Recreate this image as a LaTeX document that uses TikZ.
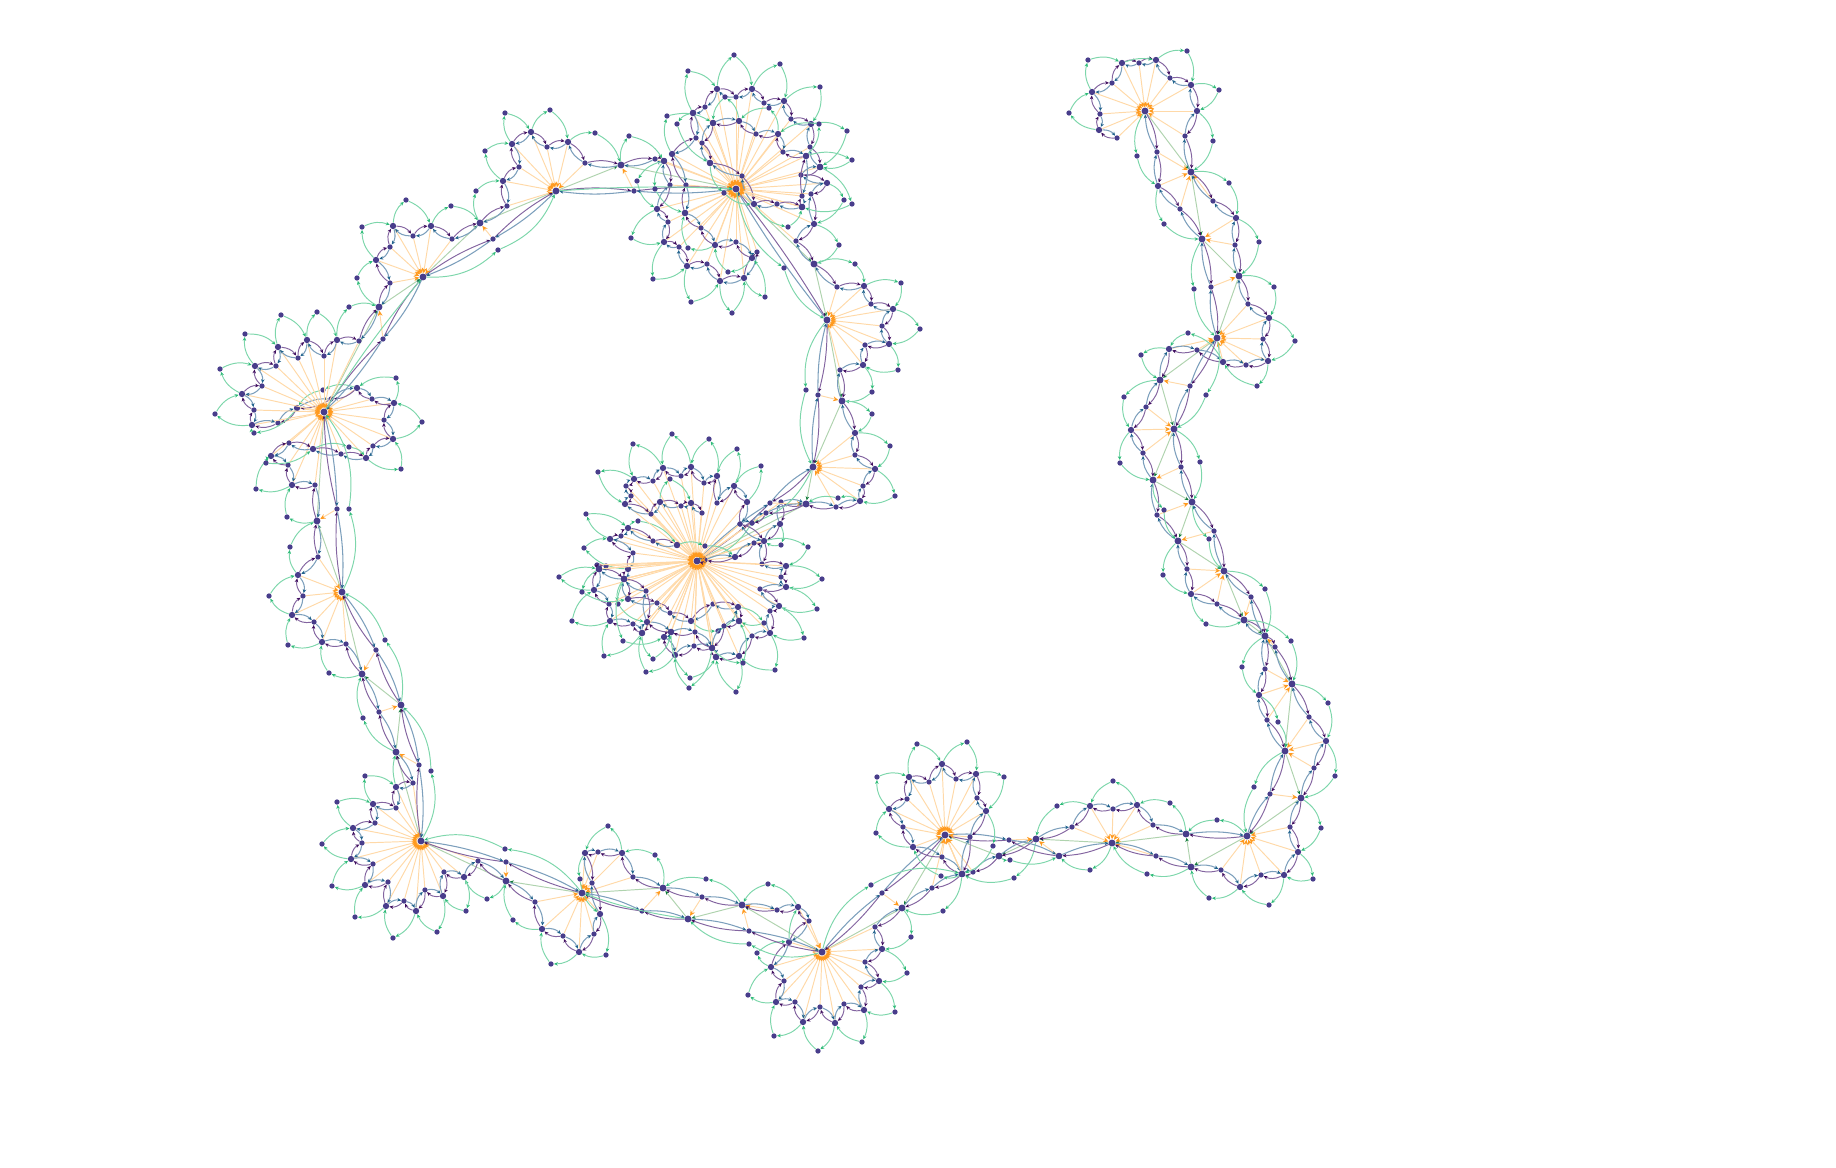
\documentclass[tikz,border=0pt]{standalone}
\usetikzlibrary{arrows.meta}
\definecolor{ink}{HTML}{483D8B}
\definecolor{peach}{HTML}{FFD9A8}
\definecolor{peachtip}{HTML}{FF9A1F}
\definecolor{mint}{HTML}{7DD6AB}
\definecolor{minttip}{HTML}{2EBB78}
\definecolor{plum}{HTML}{8364A0}
\definecolor{plumtip}{HTML}{3F0D5E}
\definecolor{steel}{HTML}{7C9FBC}
\definecolor{steeltip}{HTML}{20628C}
\definecolor{sage}{HTML}{AFD3AE}
\definecolor{sagetip}{HTML}{0F7A3A}
\tikzset{
  smalldot/.style={circle,fill=ink,inner sep=0pt,minimum size=3pt},
  bigdot/.style={circle,fill=ink,inner sep=0pt,minimum size=3.6pt},
  hubdot/.style={circle,fill=ink,inner sep=0pt,minimum size=3.9pt},
  spoke/.style={draw=peach,line width=.55pt,-{Stealth[length=3pt,width=2.8pt,color=peachtip]}},
  leafline/.style={draw=mint,line width=.55pt,-{Stealth[length=2.2pt,width=2pt,color=minttip]}},
  plumline/.style={draw=plum,line width=.55pt,-{Stealth[length=2.2pt,width=2pt,color=plumtip]}},
  steelline/.style={draw=steel,line width=.6pt,-{Stealth[length=2.2pt,width=2pt,color=steeltip]}},
  backbone/.style={draw=sage,line width=.55pt,-{Stealth[length=2.2pt,width=2pt,color=sagetip]}}
}
\newcount\dotno
\newif\iflens
\newcommand{\petal}[3]{%
  \pgfpointdiff{\pgfpointanchor{#1}{center}}{\pgfpointanchor{#2}{center}}\pgfgetlastxy{\ax}{\ay}%
  \pgfpointdiff{\pgfpointanchor{#1}{center}}{\pgfpointanchor{#3}{center}}\pgfgetlastxy{\bx}{\by}%
  \pgfmathsetmacro{\turn}{(\ax/10)*(\by/10)-(\ay/10)*(\bx/10)}%
  \ifdim\turn pt>0pt \def\side{-22}\else \def\side{22}\fi
  \draw[leafline,bend left=\side] (#1) to (#2);
  \draw[leafline,bend left=\side] (#2) to (#3);
}
\newcommand{\setbend}[3]{%
  \pgfpointdiff{\pgfpointanchor{#1}{center}}{\pgfpointanchor{#2}{center}}\pgfgetlastxy{\ax}{\ay}%
  \pgfmathsetmacro{\bendang}{min(#3,318/max(veclen(\ax,\ay),1))}%
}
\newcommand{\walk}[1]{%
  \gdef\prevdot{}\gdef\prevbig{}%
  \foreach \x/\y/\tgt/\lx/\ly in {#1}{%
    \global\advance\dotno by 1
    \edef\cur{d\the\dotno}%
    \edef\curleaf{l\the\dotno}%
    \ifnum\lx=0 \node[smalldot] (\cur) at (\x,\y) {};
    \else \node[bigdot] (\cur) at (\x,\y) {};
    \fi
    \ifnum\tgt>0 \draw[spoke] (\cur) -- (b\tgt); \fi
    \iflens\ifx\prevdot\empty\else
      \setbend{\prevdot}{\cur}{26}%
      \draw[plumline,bend left=\bendang] (\prevdot) to (\cur);
      \draw[steelline,bend left=\bendang] (\cur) to (\prevdot);
    \fi\fi
    \ifnum\lx>2 \node[smalldot] (\curleaf) at (\lx,\ly) {};
      \ifx\prevbig\empty\else \petal{\prevbig}{\curleaf}{\cur}\fi
    \fi
    \ifnum\lx=2 \setbend{\prevbig}{\cur}{14}%
      \draw[leafline,bend left=\bendang] (\prevbig) to (\cur); \fi
    \ifnum\lx>0 \xdef\prevbig{\cur}\fi
    \xdef\prevdot{\cur}%
  }%
}
\begin{document}
\begin{tikzpicture}[x=0.02cm,y=-0.02cm]
  \useasboundingbox (0,0) rectangle (1836,1168);
  \foreach \x/\y [count=\i] in {1145/111,1191/172,1202/239,1239/276,1217/338,1160/380,1174/429,1153/480,
    1192/502,1178/541,1224/571,1244/620,1265/636,1292/684,1285/751,1301/798,1247/836,1191/867,1186/834,
    1112/843,1036/839,999/856,945/835,902/908,822/952,742/905,688/919,663/888,582/893,506/881,421/841,
    396/752,401/705,362/674,342/592,317/521,324/412,379/307,423/277,480/223,556/191,621/165,736/189,
    814/264,827/320,842/401,813/467,806/504,697/561}
    \node[hubdot] (b\i) at (\x,\y) {};
  \foreach \i [remember=\i as \j (initially 1)] in {2,...,49}
    \draw[backbone] (b\j) -- (b\i);
  \lenstrue
  \walk{1117/138/1/0/0,1099/130/1/1/0,1100/114/1/0/0,1092/92/1/1069/113,1112/83/1/0/0,1122/63/1/1088/60,
    1139/63/1/0/0,1156/60/1/2/0,1170/78/1/0/0,1191/85/1/1187/51,1197/111/1/1219/90,1185/136/1/0/0,
    1191/172/0/1213/141,1213/201/2/0/0,1236/218/3/1229/183,1235/245/3/0/0,1239/276/0/1259/242,
    1248/304/5/0/0,1269/318/5/1274/287,1263/339/5/0/0,1268/361/5/1295/341,1246/365/5/0/0,1223/362/5/1257/386,
    1197/350/5/0/0,1169/349/5/1188/333,1160/380/0/1141/355,1146/407/7/0/0,1131/430/7/1124/397,1143/453/7/0/0,
    1153/480/0/1120/463,1157/515/9/0/0,1178/541/0/1164/510,1187/569/11/0/0,1191/594/11/1163/575,1217/604/11/0/0,
    1244/620/0/1206/624,1265/636/0/1/0,1265/669/14/0/0,1259/695/14/1242/667,1267/720/14/0/0,1285/751/0/1278/722,
    1270/794/16/0/0,1247/836/0/1254/787,1186/834/0/1217/820,1153/825/20/0/0,1137/805/20/1170/803,1113/809/20/0/0,
    1090/806/20/1113/781,1072/827/20/0/0,1036/839/0/1057/806,999/856/0/0/0,973/872/23/0/0,962/874/23/1014/878,
    932/888/23/0/0,902/908/0/943/911,875/927/25/0/0,882/949/25/911/937,865/962/25/0/0,879/981/25/907/973,
    861/987/25/0/0,864/1010/25/895/1012,844/1004/25/0/0,835/1023/25/862/1042,820/1007/25/0/0,803/1022/25/818/1051,
    795/1002/25/0/0,776/1002/25/774/1036,784/981/25/0/0,771/967/25/748/995,789/942/25/757/953,809/921/25/0/0,
    798/907/25/2/0,777/910/26/0/0,742/905/0/768/884,702/897/27/0/0,663/888/0/706/879,633/877/29/0/0,
    622/853/29/655/855,598/852/29/0/0,585/853/29/608/826,592/883/29/0/0,600/914/29/580/879,594/934/29/0/0,
    579/952/29/606/955,563/936/29/0/0,542/929/29/551/964,535/902/29/0/0,506/881/0/513/920,478/861/31/0/0,
    464/877/31/487/899,444/872/31/0/0,443/896/31/466/911,425/890/31/0/0,416/911/31/437/932,404/901/31/0/0,
    386/906/31/393/938,388/882/31/0/0,365/885/31/355/917,373/864/31/0/0,351/859/31/332/886,362/843/31/0/0,
    353/828/31/322/844,375/823/31/0/0,373/804/31/337/802,396/808/31/0/0,396/787/31/365/776,413/783/31/0/0,
    396/752/0/2/0,379/712/33/0/0,362/674/0/363/718,346/644/35/0/0,322/642/35/329/673,314/622/35/0/0,
    292/615/35/288/645,303/596/35/0/0,298/575/35/269/596,318/557/35/0/0,317/521/0/290/547,315/485/37/0/0,
    292/485/37/287/517,288/465/37/0/0,271/456/37/256/489,289/443/37/0/0,313/449/37/266/463,341/454/37/0/0,
    366/458/37/349/447,373/446/37/0/0,393/439/37/401/469,384/420/37/0/0,394/403/37/422/422,372/399/37/0/0,
    357/388/37/396/378,331/399/37/0/0,297/408/37/323/390,278/423/37/0/0,252/425/37/254/433,254/410/37/0/0,
    242/394/37/215/414,262/386/37/0/0,255/366/37/220/369,276/366/37/0/0,278/347/37/245/334,298/358/37/0/0,
    307/340/37/281/315,324/356/37/0/0,337/340/37/317/312,359/341/37/0/0,379/307/0/349/307,390/283/39/0/0,
    376/260/39/357/278,390/247/39/0/0,393/226/39/362/227,413/236/39/0/0,431/226/39/406/200,452/239/39/0/0,
    480/223/0/451/206,507/206/41/0/0,503/181/41/476/191,519/167/41/0/0,512/144/41/485/151,531/132/41/505/113,
    547/147/41/0/0,568/142/41/550/110,585/163/41/0/0,621/165/0/595/133,655/159/43/0/0,664/161/43/629/136,
    670/185/43/0/0,657/209/43/637/181,668/222/43/0/0,664/242/43/631/238,679/247/43/0/0,687/266/43/653/279,
    707/264/43/0/0,720/281/43/691/302,744/278/43/732/313,757/252/43/0/0,752/258/43/765/297,736/242/43/0/0,
    715/245/43/728/272,701/228/43/0/0,685/213/43/688/248,686/185/43/0/0,672/154/43/0/0,696/138/43/0/0,
    693/113/43/1/0,705/107/43/0/0,717/89/43/688/71,736/97/43/0/0,752/89/43/734/55,764/103/43/0/0,784/101/43/780/64,
    791/119/43/0/0,811/124/43/820/87,810/147/43/0/0,820/167/43/847/131,801/175/43/0/0,827/183/43/1/0,811/194/43/0/0,
    814/224/43/844/200,796/241/43/0/0,814/264/0/839/245,837/287/45/0/0,864/286/45/855/264,871/304/45/0/0,
    893/309/45/901/283,882/326/45/0/0,889/344/45/920/329,865/345/45/0/0,863/365/45/898/370,840/370/45/0/0,
    842/401/0/872/392,855/433/47/872/414,855/455/47/0/0,875/469/47/890/446,863/486/47/0/0,860/501/47/895/496,
    836/507/47/0/0,806/504/0/838/498,781/502/49/0/0,780/524/49/1/0,764/541/49/781/545,762/564/49/0/0,
    786/566/49/808/547,781/577/49/0/0,786/587/49/822/579,760/589/49/0/0,779/606/49/817/609,770/611/49/0/0,
    770/633/49/804/638,752/636/49/0/0,739/656/49/775/670,716/657/49/736/692,712/648/49/1/0,694/646/49/0/0,
    675/655/49/689/688,664/637/49/0/0,671/632/49/0/0,647/622/49/0/0,642/633/49/646/672,633/624/49/0/0,
    610/621/49/604/656,609/604/49/0/0,594/590/49/572/621,599/569/49/559/577,624/579/49/0/0,628/569/49/1/0,
    633/553/49/0/0,610/539/49/584/548,621/536/49/0/0,628/528/49/586/514,653/541/49/0/0,677/545/49/638/521}
  \walk{1145/111/0/1/0,1157/152/2/0/0,1158/186/2/1137/156,1180/209/2/0/0,1202/239/0/1164/224,1211/287/4/0/0,
    1217/338/0/1194/289,1190/386/6/0/0,1174/429/0/1206/395,1181/467/8/0/0,1192/502/0/1200/462,1214/531/10/0/0,
    1224/571/0/1209/539,1251/597/12/0/0,1265/636/0/1265/589,1275/647/13/0/0,1292/684/0/1/0,1309/717/15/0/0,
    1326/741/15/1328/703,1314/768/15/0/0,1301/798/0/1335/776,1290/827/17/0/0,1298/852/17/1321/828,
    1284/875/17/1313/879,1261/875/17/0/0,1240/887/17/1269/905,1221/870/17/0/0,1191/867/0/1209/898,1156/856/20/0/0,
    1112/843/0/1147/874,1059/856/21/1090/870,1009/840/21/0/0,945/835/0/1/0,882/893/24/0/0,822/952/0/1/0,
    749/931/26/0/0,688/919/0/749/944,642/911/28/0/0,582/893/0/2/0,506/862/30/0/0,421/841/0/505/849,419/765/32/0/0,
    401/705/0/431/771,376/650/34/0/0,342/592/0/385/640,337/509/36/0/0,324/412/0/349/509,383/339/38/0/0,
    423/277/0/2/0,493/239/40/0/0,556/191/0/498/250,634/191/42/0/0,736/189/0/2/0,827/320/0/784/268,818/395/46/0/0,
    813/467/0/806/390,770/503/48/0/0,697/561/0/752/523}
  \walk{962/874/23/1/0,942/857/23/0/0,913/847/23/941/876,903/827/23/0/0,889/809/23/876/833,907/799/23/0/0,
    909/777/23/877/777,929/782/23/0/0,942/764/23/917/744,956/779/23/0/0,976/774/23/967/742,977/798/23/0/0,
    986/811/23/1004/777,970/837/23/0/0,962/874/23/993/846}
  \walk{802/207/43/1/0,802/196/43/0/0,806/156/43/1/0,783/152/43/0/0,778/134/43/819/124,756/134/43/0/0,
    739/121/43/769/108,713/123/43/725/97,702/143/43/0/0,710/163/43/1/0,742/176/43/0/0,754/204/43/724/193,
    777/204/43/0/0,802/207/43/788/227}
  \walk{624/579/49/1/0,628/599/49/0/0,657/603/49/0/0,670/613/49/0/0,691/621/49/1/0,713/604/49/0/0,
    738/607/49/718/631,739/621/49/764/623,724/626/49/0/0,712/648/49/0/0,695/632/49/0/0,671/632/49/0/0}
  \walk{624/579/49/1/0,646/591/49/0/0,647/622/49/618/604}
  \walk{806/504/0/1/0,766/513/49/0/0,752/523/49/0/0,740/524/49/0/0,764/541/49/0/0,754/543/49/0/0,
    735/557/49/0/0,705/560/49/0/0,697/561/0/0/0}
  \walk{740/524/49/0/0,747/502/49/1/0,734/486/49/761/466,717/503/49/0/0,717/476/49/737/449,704/483/49/0/0,
    691/467/49/709/439,681/476/49/0/0,663/468/49/672/434,653/481/49/0/0,634/479/49/633/444,626/486/49/0/0,
    631/496/49/0/0,625/504/49/598/472,651/514/49/0/0,660/502/49/1/0,681/506/49/0/0,691/503/49/670/479,702/513/49/0/0}
  \walk{599/569/49/1/0,606/566/49/0/0}
  \walk{599/569/49/1/0,597/565/49/0/0}
  \lensfalse
  \walk{664/161/0/1/0,685/213/0/655/189}
  \walk{672/154/0/1/0,713/123/0/667/116}
  \walk{693/113/0/1/0,710/163/0/677/124}
  \walk{806/156/0/1/0,820/167/0/852/160}
  \walk{820/167/0/1/0,802/207/0/852/204}
  \walk{1244/620/0/1/0,1292/684/0/1291/641}
  \walk{999/856/0/1/0,1059/856/0/1010/860}
  \walk{822/952/0/1/0,962/874/0/871/885}
  \walk{624/579/0/1/0,664/637/0/623/641}
  \walk{642/633/0/1/0,671/632/0/653/659}
  \walk{671/632/0/1/0,716/657/0/690/678}
  \walk{712/648/0/1/0,739/621/0/743/663}
  \walk{599/569/0/1/0,628/599/0/582/592}
  \walk{677/545/0/1/0,735/557/0/705/546}
\end{tikzpicture}
\end{document}
